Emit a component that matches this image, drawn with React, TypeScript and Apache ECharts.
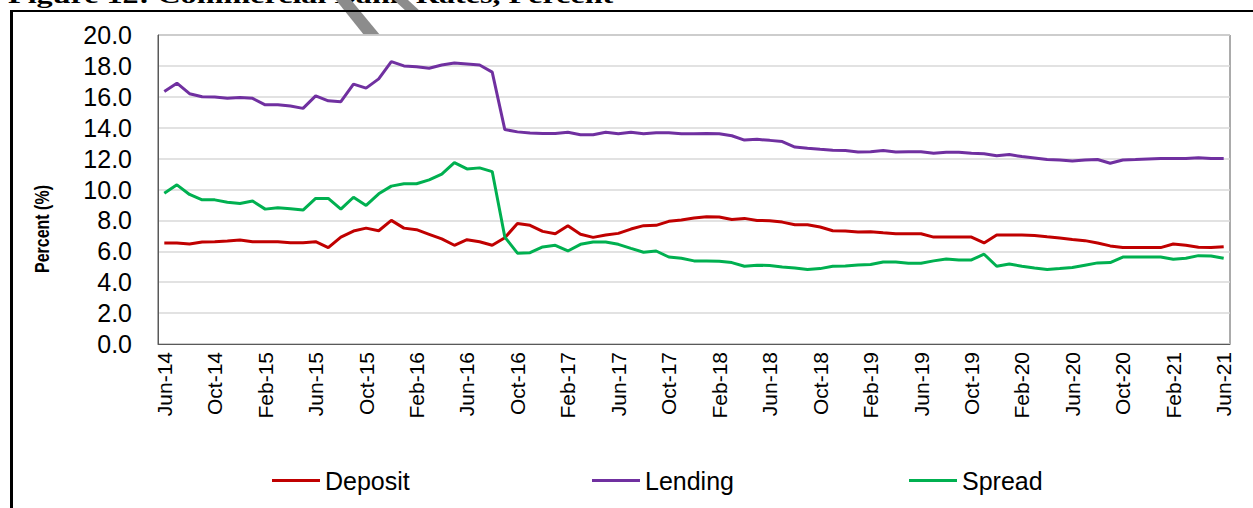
import React, { useEffect, useRef } from "react";
import * as echarts from "echarts";

const months: string[] = [
  "Jun-14","Jul-14","Aug-14","Sep-14","Oct-14","Nov-14","Dec-14",
  "Jan-15","Feb-15","Mar-15","Apr-15","May-15","Jun-15","Jul-15","Aug-15","Sep-15","Oct-15","Nov-15","Dec-15",
  "Jan-16","Feb-16","Mar-16","Apr-16","May-16","Jun-16","Jul-16","Aug-16","Sep-16","Oct-16","Nov-16","Dec-16",
  "Jan-17","Feb-17","Mar-17","Apr-17","May-17","Jun-17","Jul-17","Aug-17","Sep-17","Oct-17","Nov-17","Dec-17",
  "Jan-18","Feb-18","Mar-18","Apr-18","May-18","Jun-18","Jul-18","Aug-18","Sep-18","Oct-18","Nov-18","Dec-18",
  "Jan-19","Feb-19","Mar-19","Apr-19","May-19","Jun-19","Jul-19","Aug-19","Sep-19","Oct-19","Nov-19","Dec-19",
  "Jan-20","Feb-20","Mar-20","Apr-20","May-20","Jun-20","Jul-20","Aug-20","Sep-20","Oct-20","Nov-20","Dec-20",
  "Jan-21","Feb-21","Mar-21","Apr-21","May-21","Jun-21",
];

const deposit: number[] = [
  6.54, 6.54, 6.47, 6.6, 6.62, 6.67, 6.73, 6.62, 6.62, 6.62, 6.56, 6.56, 6.62, 6.24, 6.92, 7.31, 7.5, 7.33, 8.0, 7.5,
  7.4, 7.1, 6.8, 6.39, 6.75, 6.62, 6.39, 6.88, 7.8,
  7.68, 7.29, 7.14, 7.66, 7.1, 6.9, 7.05, 7.16, 7.44, 7.66, 7.68, 7.94, 8.02, 8.15, 8.24, 8.22, 8.06, 8.13, 8.0, 7.98,
  7.89, 7.72, 7.72, 7.57, 7.33, 7.31, 7.25,
  7.27, 7.2, 7.14, 7.14, 7.14, 6.92, 6.92, 6.92, 6.92, 6.54, 7.05, 7.05, 7.05, 7.03, 6.94, 6.86, 6.77, 6.69, 6.54, 6.35,
  6.24, 6.24, 6.24, 6.24, 6.47, 6.39, 6.26, 6.24, 6.3,
];

const lending: number[] = [
  16.34, 16.88, 16.2, 16.0, 15.98, 15.9, 15.96, 15.9, 15.48, 15.48, 15.4, 15.25, 16.06, 15.74, 15.68, 16.82, 16.56, 17.16,
  18.28, 18.0, 17.94, 17.85, 18.06, 18.19, 18.13, 18.06, 17.6, 13.88, 13.73,
  13.66, 13.63, 13.63, 13.7, 13.55, 13.55, 13.7, 13.61, 13.7, 13.61, 13.68, 13.68, 13.61, 13.61, 13.63, 13.61, 13.48,
  13.2, 13.25, 13.18, 13.1, 12.75, 12.67, 12.6, 12.54, 12.52, 12.43,
  12.45, 12.52, 12.43, 12.45, 12.45, 12.34, 12.41, 12.41, 12.34, 12.32, 12.19, 12.26, 12.13, 12.04, 11.94, 11.91, 11.85,
  11.91, 11.94, 11.7, 11.91, 11.94, 11.98, 12.0, 12.0, 12.0, 12.06, 12.0, 12.0,
];

const spread: number[] = [
  9.76, 10.3, 9.68, 9.33, 9.33, 9.18, 9.1, 9.25, 8.73, 8.82, 8.75, 8.67, 9.42, 9.42, 8.73, 9.5, 8.97, 9.72, 10.22, 10.37,
  10.37, 10.62, 11.0, 11.74, 11.33, 11.4, 11.16, 6.92, 5.88,
  5.91, 6.28, 6.39, 6.02, 6.45, 6.6, 6.6, 6.45, 6.19, 5.94, 6.02, 5.63, 5.55, 5.38, 5.38, 5.35, 5.27, 5.03, 5.1, 5.08,
  4.99, 4.92, 4.82, 4.88, 5.03, 5.05, 5.12,
  5.14, 5.31, 5.31, 5.23, 5.23, 5.38, 5.5, 5.44, 5.44, 5.81, 5.03, 5.18, 5.03, 4.92, 4.82, 4.88, 4.95, 5.1, 5.25, 5.27,
  5.63, 5.63, 5.63, 5.63, 5.48, 5.55, 5.72, 5.7, 5.55,
];

const seriesNames = ["Deposit", "Lending", "Spread"];
const seriesColors = ["#C00000", "#7030A0", "#00B050"];
const titleText = "Figure 12: Commercial Bank Rates, Percent";
const yAxisTitle = "Percent (%)";

export default function App() {
  const ref = useRef<HTMLDivElement>(null);
  useEffect(() => {
    if (!ref.current) return;
    const chart = echarts.init(ref.current, undefined, { renderer: "svg" });
    const font = "Arial, 'Liberation Sans', sans-serif";
    const legendLefts = [272, 592, 909];
    const dataSets = [deposit, lending, spread];
    chart.setOption({
      animation: false,
      backgroundColor: "#ffffff",
      textStyle: { fontFamily: font },
      grid: {
        left: 158,
        right: 23,
        top: 35,
        bottom: 164,
        show: true,
        borderColor: "#595959",
        borderWidth: 1,
        backgroundColor: "transparent",
      },
      legend: seriesNames.map((n, i) => ({
        data: [n],
        left: legendLefts[i],
        top: 468,
        padding: 0,
        icon: "rect",
        itemWidth: 48,
        itemHeight: 3,
        itemGap: 5,
        textStyle: { fontSize: 25, color: "#000", fontFamily: font },
      })),
      xAxis: {
        type: "category",
        data: months,
        boundaryGap: true,
        axisTick: { show: false },
        axisLine: { show: true, lineStyle: { color: "#595959", width: 1 } },
        axisLabel: {
          interval: 3,
          rotate: 90,
          fontSize: 21,
          color: "#000",
          margin: 8,
          fontFamily: font,
        },
        splitLine: { show: false },
      },
      yAxis: {
        type: "value",
        min: 0,
        max: 20,
        interval: 2,
        axisLine: { show: true, lineStyle: { color: "#595959" } },
        axisTick: { show: false },
        axisLabel: {
          fontSize: 25,
          color: "#000",
          margin: 26,
          fontFamily: font,
          formatter: (v: number) => v.toFixed(1),
        },
        splitLine: { lineStyle: { color: "#d9d9d9", width: 1.5 } },
      },
      series: seriesNames.map((n, i) => ({
        name: n,
        type: "line",
        data: dataSets[i],
        showSymbol: false,
        symbol: "none",
        lineStyle: { color: seriesColors[i], width: 3 },
        itemStyle: { color: seriesColors[i] },
      })),
      graphic: [
        {
          type: "text",
          x: 8,
          y: -17,
          scaleX: 1.34,
          style: {
            text: titleText,
            font: "bold 24px 'Liberation Serif', 'Times New Roman', serif",
            fill: "#000",
          },
        },
        {
          type: "polygon",
          shape: { points: [[336, 0], [351, 0], [380, 35], [364, 35]] },
          style: { fill: "#8c8c8c" },
        },
        {
          type: "polygon",
          shape: { points: [[394, 0], [408, 0], [421, 12], [407, 12]] },
          style: { fill: "#8c8c8c" },
        },
        {
          type: "rect",
          shape: { x: 10, y: 10, width: 1243, height: 2 },
          style: { fill: "#000" },
        },
        {
          type: "rect",
          shape: { x: 10, y: 10, width: 3, height: 498 },
          style: { fill: "#000" },
        },
        {
          type: "text",
          x: 42,
          y: 229,
          rotation: Math.PI / 2,
          scaleY: 1.3,
          style: {
            text: yAxisTitle,
            font: "bold 16px Arial, 'Liberation Sans', sans-serif",
            fill: "#000",
            align: "center",
            verticalAlign: "middle",
          },
        },
      ],
    });
    return () => chart.dispose();
  }, []);
  return (
    <div
      ref={ref}
      style={{ position: "absolute", left: 0, top: 0, width: 1253, height: 508 }}
    />
  );
}
